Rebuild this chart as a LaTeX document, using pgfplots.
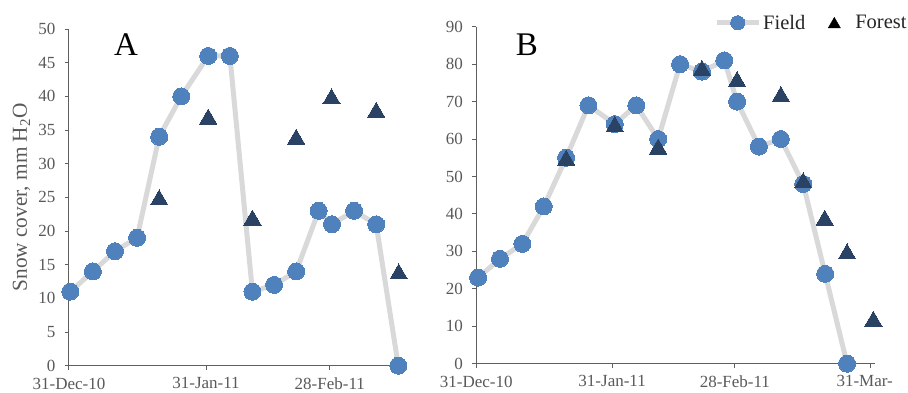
\documentclass[border=0pt]{standalone}
\usepackage{fontspec}
\setmainfont{Liberation Serif}
\usepackage{pgfplots}
\pgfplotsset{compat=1.18}
\definecolor{fieldblue}{HTML}{4F81BD}
\definecolor{forestnavy}{HTML}{2A4365}
\definecolor{linegray}{HTML}{D9D9D9}
\definecolor{axisgray}{HTML}{5F5F5F}
\definecolor{textgray}{HTML}{595959}
\definecolor{legtext}{HTML}{262626}
\pgfplotsset{
  snowstyle/.style={
    scale only axis,
    axis lines=left,
    axis line style={-, draw=axisgray, line width=1pt},
    tick align=outside,
    major tick length=4pt,
    tick style={draw=axisgray, line width=1pt},
    ticklabel style={font=\fontsize{17}{20}\selectfont, text=textgray},
    /pgf/number format/assume math mode=true,
    x tick label style={yshift=-4.5pt},
    y tick label style={xshift=-6pt},
    xmin=0, ymin=0,
    clip=false,
  },
  fieldstyle/.style={color=linegray, line width=5pt, line join=round,
    mark=*, mark size=8.5pt,
    mark options={line width=0pt, draw=fieldblue, fill=fieldblue}},
  foreststyle/.style={only marks, mark=triangle*, mark size=10pt,
    mark options={line width=0pt, draw=forestnavy, fill=forestnavy, yshift=-2.5pt}},
  fieldleg/.style={legend image code/.code={\draw[##1, mark repeat=2, mark phase=2, mark size=7pt]
    plot coordinates {(0pt,0pt) (21pt,0pt) (42pt,0pt)};}},
  forestleg/.style={legend image code/.code={
    \path[draw=none, fill=none] (0pt,-5pt) rectangle (26pt,5pt);
    \draw[##1, mark size=7pt, mark options={yshift=-1.7pt}]
    plot coordinates {(7pt,0pt)};}},
}
\begin{document}
\begin{tikzpicture}
\path[use as bounding box] (0,0) rectangle (908pt,392pt);
% Panel A
\begin{axis}[snowstyle,
  at={(69pt,26.3pt)}, anchor=south west,
  width=333.7pt, height=336.7pt,
  xmax=75.5, ymax=50,
  xtick={0,31,59}, xticklabels={31-Dec-10,31-Jan-11,28-Feb-11},
  ytick={0,5,...,50},
  ylabel={Snow cover, mm H\textsubscript{2}O},
  ylabel style={font=\fontsize{21.3}{25}\selectfont, text=textgray,
    at={(axis description cs:-0.126,0.5)}, anchor=base},
]
\addplot[fieldstyle] coordinates {
 (0.3,11) (5.4,14) (10.4,17) (15.4,19) (20.4,34) (25.4,40) (31.5,46) (36.4,46)
 (41.5,11) (46.4,12) (51.4,14) (56.5,23) (59.5,21) (64.5,23) (69.5,21) (74.5,0)};
\addplot[foreststyle] coordinates {
 (20.4,25) (31.5,37) (41.5,22) (51.4,34) (59.4,40) (69.5,38) (74.6,14)};
\end{axis}
% Panel B
\begin{axis}[snowstyle,
  at={(476.3pt,28.3pt)}, anchor=south west,
  width=398.8pt, height=337pt,
  xmax=91, ymax=90,
  xtick={0,31,59,90}, xticklabels={31-Dec-10,31-Jan-11,28-Feb-11,\hspace*{-12pt}31-Mar-},
  ytick={0,10,...,90},
  legend columns=2,
  legend style={draw=none, fill=none, font=\fontsize{20.5}{24}\selectfont,
    text=legtext, at={(axis description cs:0.596,1.012)}, anchor=west,
    inner sep=0pt, nodes={inner xsep=2pt},
    /tikz/every odd column/.append style={column sep=0pt},
    /tikz/every even column/.append style={column sep=20pt}},
]
\addplot[fieldstyle, fieldleg] coordinates {
 (0.4,23) (5.4,28) (10.5,32) (15.4,42) (20.5,55) (25.6,69) (31.6,64) (36.5,69)
 (41.5,60) (46.5,80) (51.5,78) (56.6,81) (59.5,70) (64.5,58) (69.5,60) (74.6,48)
 (79.6,24) (84.6,0)};
\addlegendentry{Field}
\addplot[foreststyle, forestleg] coordinates {
 (20.5,55) (31.6,64) (41.5,58) (51.5,79) (59.5,76) (69.5,72) (74.6,49) (79.5,39)
 (84.6,30) (90.6,12)};
\addlegendentry{Forest}
\end{axis}
\node[font=\fontsize{33}{36}\selectfont] at (126pt,347pt) {A};
\node[font=\fontsize{33}{36}\selectfont] at (527pt,347pt) {B};
\end{tikzpicture}
\end{document}
